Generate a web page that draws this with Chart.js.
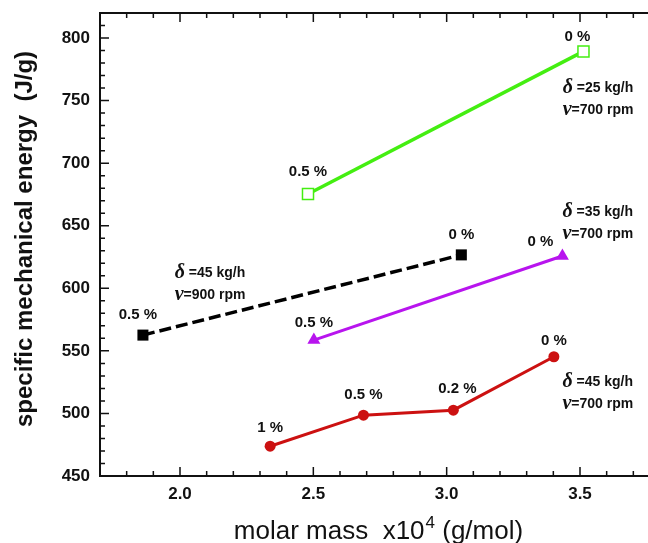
<!DOCTYPE html>
<html>
<head>
<meta charset="utf-8">
<script src="https://cdn.jsdelivr.net/npm/chart.js@4.4.0/dist/chart.umd.min.js"></script>
<style>
  html, body { margin: 0; padding: 0; background: #fff; }
  #wrap { width: 648px; height: 543px; }
</style>
</head>
<body>
<div id="wrap"><canvas id="smeChart"></canvas></div>
<script>
// molar mass (x10^4 g/mol) against specific mechanical energy (J/g)
const greenMass = [2.48, 3.513];
const greenEnergy = [675.4, 789.3];
const greenLabels = ['0.5 %', '0 %'];

const blackMass = [1.861, 3.055];
const blackEnergy = [562.6, 626.7];
const blackLabels = ['0.5 %', '0 %'];

const purpleMass = [2.502, 3.434];
const purpleEnergy = [558.6, 625.8];
const purpleLabels = ['0.5 %', '0 %'];

const redMass = [2.338, 2.688, 3.025, 3.402];
const redEnergy = [473.8, 498.6, 502.6, 545.3];
const redLabels = ['1 %', '0.5 %', '0.2 %', '0 %'];

// feed rate / screw speed for each run
const feedRates = ['=25 kg/h', '=45 kg/h', '=35 kg/h', '=45 kg/h'];
const screwSpeeds = ['=700 rpm', '=900 rpm', '=700 rpm', '=700 rpm'];

const xTicks = [2.0, 2.5, 3.0, 3.5];
const yTicks = [450, 500, 550, 600, 650, 700, 750, 800];

const SANS = '"Liberation Sans", Arial, Helvetica, sans-serif';
const SERIF = '"Liberation Serif", "DejaVu Serif", serif';
const INK = '#111';

function pts(xs, ys) {
  return xs.map((v, i) => ({ x: v, y: ys[i] }));
}

// where each condition note sits, in axis units
const noteAnchors = [
  { x: 3.435, y: 760 },
  { x: 1.98, y: 612 },
  { x: 3.434, y: 661 },
  { x: 3.434, y: 525 }
];

// inward tick marks plus the top frame line
const frameTicks = {
  id: 'frameTicks',
  afterDraw(chart) {
    const { ctx, chartArea: a, scales: { x, y } } = chart;
    ctx.save();
    ctx.strokeStyle = INK;
    ctx.lineWidth = 2;
    ctx.beginPath();
    ctx.moveTo(a.left - 1, a.top);
    ctx.lineTo(a.right, a.top);
    ctx.stroke();
    ctx.lineWidth = 1.5;
    ctx.beginPath();
    for (let i = 18; i <= 37; i++) {
      const px = x.getPixelForValue(i / 10);
      const len = i % 5 === 0 ? 9 : 5;
      ctx.moveTo(px, a.bottom);
      ctx.lineTo(px, a.bottom - len);
      ctx.moveTo(px, a.top);
      ctx.lineTo(px, a.top + len);
    }
    for (let v = 460; v <= 820; v += 10) {
      const py = y.getPixelForValue(v);
      const len = v % 50 === 0 ? 9 : 5;
      ctx.moveTo(a.left, py);
      ctx.lineTo(a.left + len, py);
    }
    ctx.stroke();
    ctx.restore();
  }
};

// percentage labels, condition notes and axis titles
const textLayer = {
  id: 'textLayer',
  afterDatasetsDraw(chart) {
    const { ctx, scales: { x, y } } = chart;
    ctx.save();
    ctx.fillStyle = INK;
    ctx.textBaseline = 'middle';

    ctx.font = 'bold 15px ' + SANS;
    ctx.textAlign = 'center';
    chart.data.datasets.forEach((ds, di) => {
      const meta = chart.getDatasetMeta(di);
      meta.data.forEach((el, i) => {
        const off = ds.labelOffsets[i];
        ctx.fillText(ds.pointLabels[i], el.x + off[0], el.y + off[1]);
      });
    });

    ctx.textAlign = 'left';
    const symFont = 'bold italic 20px ' + SERIF;
    noteAnchors.forEach((p, i) => {
      const px = x.getPixelForValue(p.x);
      const py = y.getPixelForValue(p.y);
      ctx.font = symFont;
      ctx.fillText('\u03b4', px, py);
      let w = ctx.measureText('\u03b4').width;
      ctx.font = 'bold 14px ' + SANS;
      ctx.fillText(' ' + feedRates[i], px + w, py);
      ctx.font = symFont;
      ctx.fillText('\u03bd', px, py + 22);
      w = ctx.measureText('\u03bd').width;
      ctx.font = 'bold 14px ' + SANS;
      ctx.fillText(screwSpeeds[i], px + w, py + 22);
    });

    // y title
    ctx.save();
    ctx.translate(25, 239);
    ctx.rotate(-Math.PI / 2);
    ctx.textAlign = 'center';
    ctx.font = 'bold 24px ' + SANS;
    ctx.fillText('specific mechanical energy  (J/g)', 0, 0);
    ctx.restore();

    // x title with superscript exponent
    ctx.textBaseline = 'alphabetic';
    const partA = 'molar mass  x10';
    const sup = '4';
    const partB = ' (g/mol)';
    ctx.font = '26px ' + SANS;
    const wa = ctx.measureText(partA).width;
    const wb = ctx.measureText(partB).width;
    ctx.font = '17px ' + SANS;
    const ws = ctx.measureText(sup).width;
    const sx = 378 - (wa + ws + wb) / 2;
    const base = 539;
    ctx.font = '26px ' + SANS;
    ctx.fillText(partA, sx, base);
    ctx.font = '17px ' + SANS;
    ctx.fillText(sup, sx + wa + 1, base - 11);
    ctx.font = '26px ' + SANS;
    ctx.fillText(partB, sx + wa + ws + 1, base);
    ctx.restore();
  }
};

new Chart(document.getElementById('smeChart'), {
  type: 'scatter',
  data: {
    datasets: [
      {
        data: pts(greenMass, greenEnergy),
        pointLabels: greenLabels,
        labelOffsets: [[0, -22], [-6, -15]],
        showLine: true,
        borderColor: '#44ee11',
        borderWidth: 3.5,
        pointStyle: 'rect',
        pointRadius: 7.8,
        pointBorderWidth: 1.5,
        pointBackgroundColor: '#fff',
        pointBorderColor: '#44ee11'
      },
      {
        data: pts(blackMass, blackEnergy),
        pointLabels: blackLabels,
        labelOffsets: [[-5, -20], [0, -20]],
        showLine: true,
        borderColor: '#000',
        borderWidth: 3.5,
        borderDash: [12, 5],
        pointStyle: 'rect',
        pointRadius: 7.8,
        pointBorderWidth: 0,
        pointBackgroundColor: '#000'
      },
      {
        data: pts(purpleMass, purpleEnergy),
        pointLabels: purpleLabels,
        labelOffsets: [[0, -17], [-22, -14]],
        showLine: true,
        borderColor: '#b814ee',
        borderWidth: 3,
        pointStyle: 'triangle',
        pointRadius: 7.5,
        pointBorderWidth: 0,
        pointBackgroundColor: '#b814ee'
      },
      {
        data: pts(redMass, redEnergy),
        pointLabels: redLabels,
        labelOffsets: [[0, -18], [0, -20], [4, -21], [0, -16]],
        showLine: true,
        borderColor: '#cc1111',
        borderWidth: 3,
        pointStyle: 'circle',
        pointRadius: 5.5,
        pointBorderWidth: 0,
        pointBackgroundColor: '#cc1111'
      }
    ]
  },
  options: {
    responsive: true,
    maintainAspectRatio: false,
    animation: false,
    layout: { autoPadding: false, padding: { top: 13, right: 0, bottom: 0, left: 0 } },
    plugins: {
      legend: { display: false },
      tooltip: { enabled: false }
    },
    scales: {
      x: {
        type: 'linear',
        min: 1.7,
        max: 3.755,
        afterBuildTicks: (s) => { s.ticks = xTicks.map(v => ({ value: v })); },
        afterFit: (s) => {
          s.height = 67;
          s.paddingLeft = 0;
          s.paddingRight = 0;
        },
        ticks: {
          color: INK,
          padding: 8,
          font: { family: SANS, size: 17, weight: 'bold' },
          callback: (v) => Number(v).toFixed(1)
        },
        grid: { drawOnChartArea: false, drawTicks: false },
        border: { display: true, color: INK, width: 2 }
      },
      y: {
        min: 450,
        max: 820,
        afterBuildTicks: (s) => { s.ticks = yTicks.map(v => ({ value: v })); },
        afterFit: (s) => {
          s.width = 100;
          s.paddingTop = 0;
          s.paddingBottom = 0;
        },
        ticks: {
          color: INK,
          padding: 10,
          font: { family: SANS, size: 17, weight: 'bold' },
          callback: (v) => String(v)
        },
        grid: { drawOnChartArea: false, drawTicks: false },
        border: { display: true, color: INK, width: 2 }
      }
    }
  },
  plugins: [frameTicks, textLayer]
});
</script>
</body>
</html>
